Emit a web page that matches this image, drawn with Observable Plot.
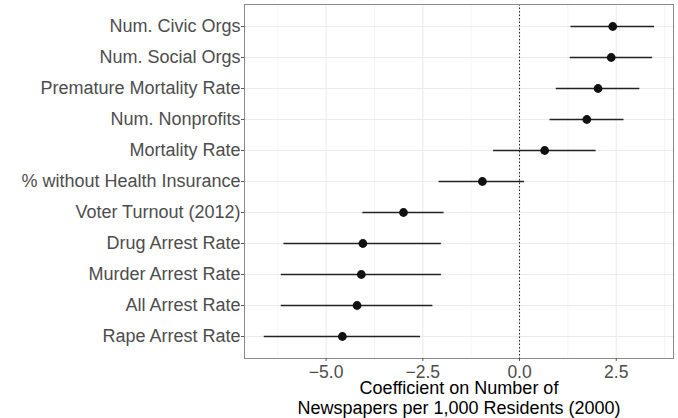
<!DOCTYPE html>
<html>
<head>
<meta charset="utf-8">
<script src="https://cdn.jsdelivr.net/npm/d3@7"></script>
<script src="https://cdn.jsdelivr.net/npm/@observablehq/plot@0.6"></script>
<style>
  html, body { margin: 0; padding: 0; background: #fff; }
  #chart { width: 678px; height: 418px; }
</style>
</head>
<body>
<div id="chart"></div>
<script>
const categories = [
  "Num. Civic Orgs",
  "Num. Social Orgs",
  "Premature Mortality Rate",
  "Num. Nonprofits",
  "Mortality Rate",
  "% without Health Insurance",
  "Voter Turnout (2012)",
  "Drug Arrest Rate",
  "Murder Arrest Rate",
  "All Arrest Rate",
  "Rape Arrest Rate"
];
const estimates = [2.41, 2.37, 2.03, 1.74, 0.65, -0.96, -3.00, -4.05, -4.09, -4.20, -4.58];
const lower     = [1.33, 1.31, 0.95, 0.79, -0.67, -2.08, -4.05, -6.09, -6.16, -6.16, -6.60];
const upper     = [3.49, 3.44, 3.11, 2.70, 1.98, 0.13, -1.95, -2.02, -2.02, -2.24, -2.56];
const majorTicks = [-5, -2.5, 0, 2.5];
const minorTicks = [-6.25, -3.75, -1.25, 1.25, 3.75];
const xTitle = "Coefficient on Number of\nNewspapers per 1,000 Residents (2000)";

const data = categories.map((c, i) => ({term: c, est: estimates[i], lo: lower[i], hi: upper[i]}));
const fmt = d3.format(".1f");

const chart = Plot.plot({
  width: 678,
  height: 418,
  marginLeft: 244,
  marginRight: 5,
  marginTop: 4,
  marginBottom: 60,
  style: {fontFamily: "Liberation Sans, Arial, sans-serif", background: "#fff"},
  x: {domain: [-7.11, 3.98], label: null},
  y: {type: "point", domain: categories, padding: 0.6, label: null},
  marks: [
    Plot.ruleX(minorTicks, {stroke: "#ededed", strokeWidth: 0.6}),
    Plot.ruleX(majorTicks, {stroke: "#ebebeb", strokeWidth: 1.1}),
    Plot.ruleY(categories, {y: d => d, stroke: "#ebebeb", strokeWidth: 1.1}),
    Plot.ruleX([0], {stroke: "#222", strokeWidth: 1, strokeDasharray: "1.5,2"}),
    Plot.ruleY(data, {y: "term", x1: "lo", x2: "hi", stroke: "#222", strokeWidth: 1.3}),
    Plot.dot(data, {x: "est", y: "term", r: 4.4, fill: "#111", stroke: "none"}),
    Plot.frame({stroke: "#8a8a8a", strokeWidth: 1}),
    Plot.axisY({tickSize: 3, tickPadding: 1, fontSize: 18, color: "#4d4d4d", stroke: "#555", label: null}),
    Plot.axisX(majorTicks, {tickSize: 3, tickPadding: 4, fontSize: 17.5, color: "#4d4d4d", stroke: "#555", tickFormat: fmt, label: null}),
    Plot.text([xTitle], {
      frameAnchor: "bottom", lineAnchor: "top", dy: 22, fontSize: 18, fill: "#000", lineHeight: 1.08
    })
  ]
});
document.getElementById("chart").appendChild(chart);
</script>
</body>
</html>
